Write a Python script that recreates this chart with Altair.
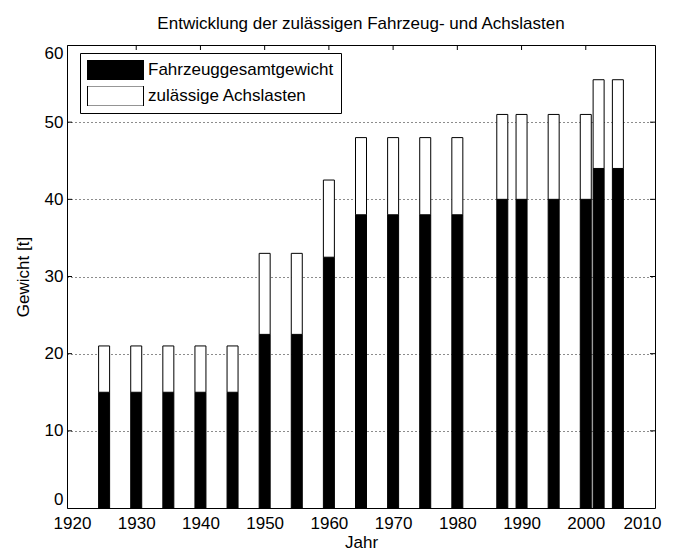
import altair as alt
import pandas as pd

years = [1925, 1930, 1935, 1940, 1945, 1950, 1955, 1960, 1965, 1970, 1975, 1980,
         1987, 1990, 1995, 2000, 2002, 2005]
gesamtgewicht = [15, 15, 15, 15, 15, 22.5, 22.5, 32.5, 38, 38, 38, 38,
                 40, 40, 40, 40, 44, 44]
achslasten = [6, 6, 6, 6, 6, 10.5, 10.5, 10, 10, 10, 10, 10,
              11, 11, 11, 11, 11.5, 11.5]
series = ["Fahrzeuggesamtgewicht", "zulässige Achslasten"]
x_ticks = [1920, 1930, 1940, 1950, 1960, 1970, 1980, 1990, 2000, 2010]
y_ticks = [0, 10, 20, 30, 40, 50, 60]

rows = []
for y, g, a in zip(years, gesamtgewicht, achslasten):
    rows.append({"Jahr": y, "Gewicht": g, "Serie": series[0], "o": 0})
    rows.append({"Jahr": y, "Gewicht": a, "Serie": series[1], "o": 1})
df = pd.DataFrame(rows)

W, H = 588, 463
FONT = "Liberation Sans"
FS = 17

xscale = alt.Scale(domain=[1920, 2010], nice=False, zero=False)
yscale = alt.Scale(domain=[0, 60], nice=False)
xaxis = alt.Axis(values=x_ticks, format="d", title="Jahr", grid=False, labelFlush=False,
                 labelOffset={"condition": {"test": "datum.value == 2010", "value": -8},
                              "value": 0})
yaxis = alt.Axis(values=y_ticks, title="Gewicht [t]", grid=True, labelFlush=True,
                 gridDash=[1, 3], gridColor="black", gridOpacity=0.9)

bars = alt.Chart(df).mark_bar(size=11, stroke="black", strokeWidth=1).encode(
    x=alt.X("Jahr:Q", scale=xscale, axis=xaxis),
    y=alt.Y("sum(Gewicht):Q", scale=yscale, stack="zero", axis=yaxis),
    color=alt.Color("Serie:N", scale=alt.Scale(domain=series, range=["black", "white"]),
                    legend=alt.Legend(title=None, orient="none", legendX=13, legendY=8,
                                      symbolType="M-1,-0.36L1,-0.36L1,0.36L-1,0.36Z",
                                      symbolSize=3136, clipHeight=20, rowPadding=6,
                                      labelFontSize=FS, labelFont=FONT, labelColor="black",
                                      labelOffset=4, labelLimit=0,
                                      strokeColor="black", fillColor="white",
                                      padding=7, symbolStrokeColor="black",
                                      symbolStrokeWidth=1, symbolOpacity=1)),
    order=alt.Order("o:Q"),
)

xt = pd.DataFrame({"Jahr": x_ticks[1:-1]})
yt = pd.DataFrame({"Gewicht": y_ticks[1:-1]})
tick_len = 5
rx = alt.X("Jahr:Q", scale=xscale, axis=xaxis)
ry = alt.Y("Gewicht:Q", scale=yscale, axis=yaxis)
t_bottom = alt.Chart(xt).mark_rule(color="black").encode(
    x=rx, y=alt.value(H), y2=alt.value(H - tick_len))
t_top = alt.Chart(xt).mark_rule(color="black").encode(
    x=rx, y=alt.value(0), y2=alt.value(tick_len))
t_left = alt.Chart(yt).mark_rule(color="black").encode(
    y=ry, x=alt.value(0), x2=alt.value(tick_len))
t_right = alt.Chart(yt).mark_rule(color="black").encode(
    y=ry, x=alt.value(W), x2=alt.value(W - tick_len))

chart = alt.layer(bars, t_bottom, t_top, t_left, t_right).properties(
    width=W, height=H,
    title=alt.TitleParams("Entwicklung der zulässigen Fahrzeug- und Achslasten",
                          font=FONT, fontSize=FS, fontWeight="normal", color="black",
                          baseline="alphabetic", offset=16, dy=18, anchor="middle"),
    autosize=alt.AutoSizeParams(type="none"),
    padding={"left": 59, "top": 37, "right": 11, "bottom": 42},
).configure_view(stroke="black", strokeWidth=1).configure_axis(
    labelFont=FONT, labelFontSize=FS, labelColor="black",
    titleFont=FONT, titleFontSize=FS, titleFontWeight="normal", titleColor="black",
    tickSize=0, domain=False,
).configure_axisX(labelPadding=7, titlePadding=3).configure_axisY(
    labelPadding=4, titlePadding=12)

chart.save("out.html", embed_options={"renderer": "svg", "actions": False})
